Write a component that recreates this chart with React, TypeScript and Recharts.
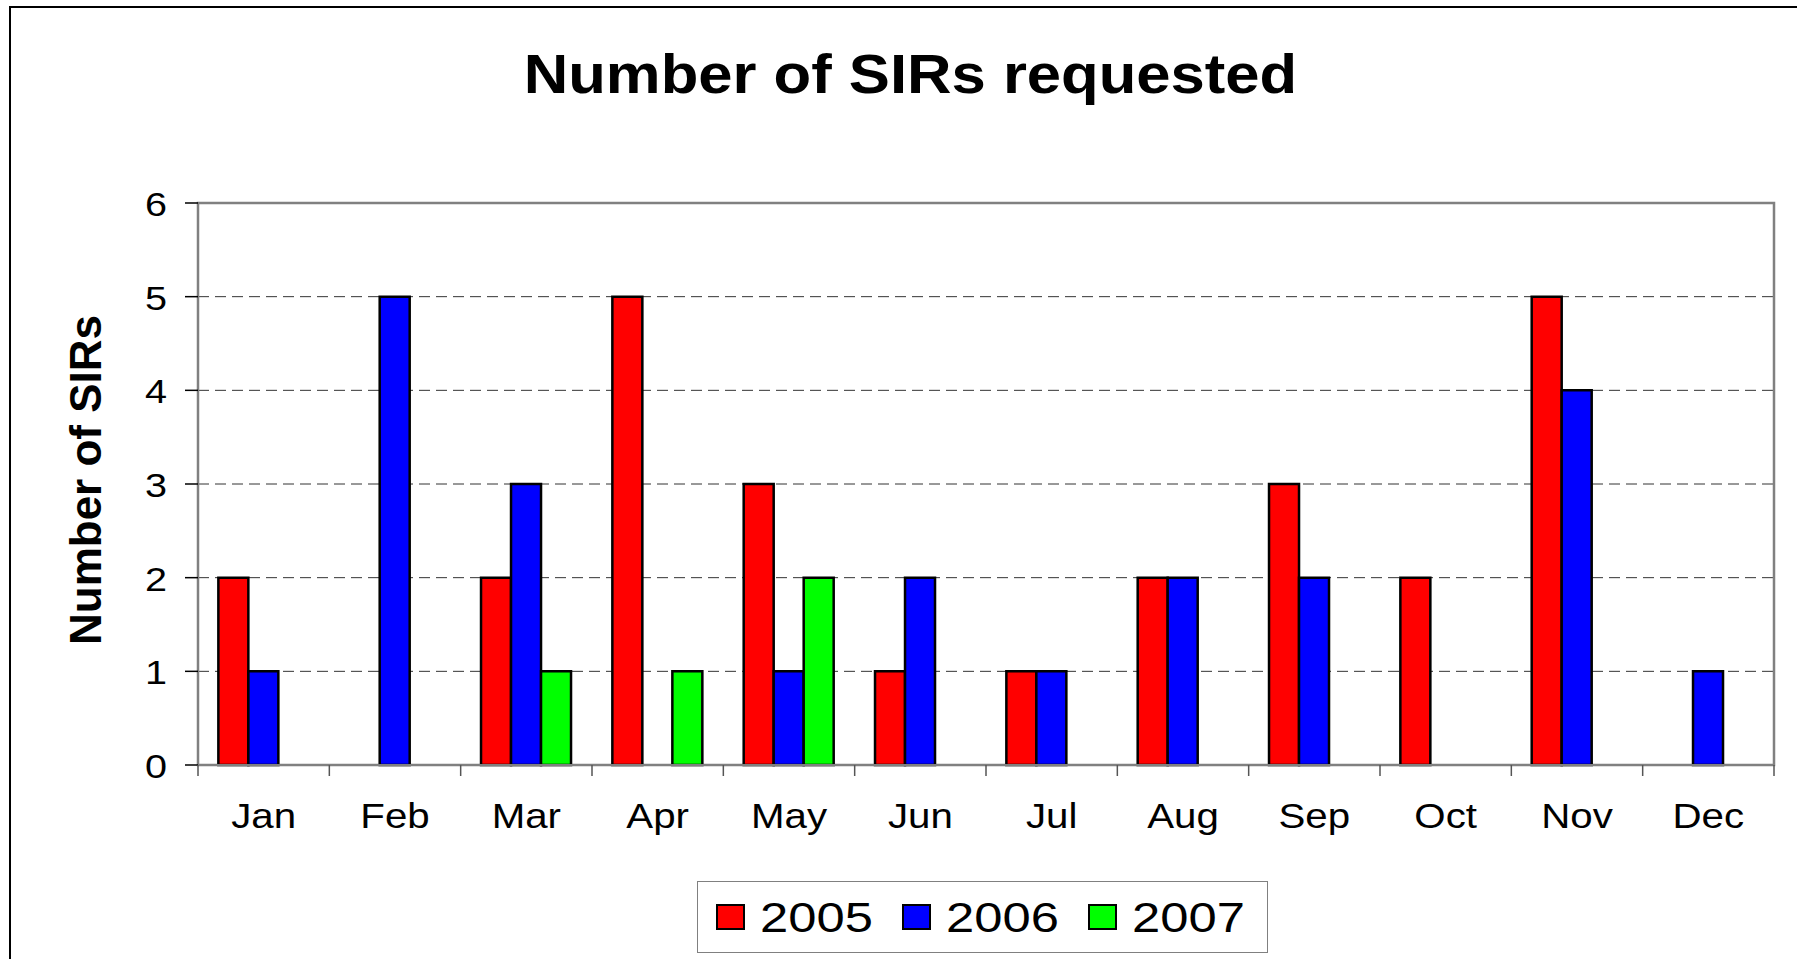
import React from 'react';
import { BarChart, Bar, XAxis, YAxis, CartesianGrid, Legend, ReferenceArea } from 'recharts';

const months = ['Jan', 'Feb', 'Mar', 'Apr', 'May', 'Jun', 'Jul', 'Aug', 'Sep', 'Oct', 'Nov', 'Dec'];
const sir2005 = [2, 0, 2, 5, 3, 1, 1, 2, 3, 2, 5, 0];
const sir2006 = [1, 5, 3, 0, 1, 2, 1, 2, 2, 0, 4, 1];
const sir2007 = [0, 0, 1, 1, 2, 0, 0, 0, 0, 0, 0, 0];
const yTicks = [0, 1, 2, 3, 4, 5, 6];
const seriesNames = ['2005', '2006', '2007'];
const seriesColors = ['#FF0000', '#0000FF', '#00FF00'];
const chartTitle = 'Number of SIRs requested';
const yAxisTitle = 'Number of SIRs';

const seriesValues = [sir2005, sir2006, sir2007];
const data = months.map((m, i) => {
  const row: any = { month: m };
  seriesNames.forEach((s, k) => {
    row[s] = seriesValues[k][i];
  });
  return row;
});

const FONT = '"Liberation Sans", Arial, Helvetica, sans-serif';

const XTick = (props: any) => {
  const { x, y, payload, index, visibleTicksCount } = props;
  const half = payload && typeof payload.offset === 'number' ? payload.offset : 0;
  return (
    <g>
      <line x1={x - half} x2={x - half} y1={y} y2={y + 11} stroke="#555" strokeWidth={1.5} />
      {index === visibleTicksCount - 1 ? (
        <line x1={x + half} x2={x + half} y1={y} y2={y + 11} stroke="#555" strokeWidth={1.5} />
      ) : null}
      <text
        transform={`translate(${x},${y + 63}) scale(1.15,1)`}
        textAnchor="middle"
        fontSize={35}
        fontFamily={FONT}
        fill="#000"
      >
        {payload.value}
      </text>
    </g>
  );
};

const YTick = (props: any) => {
  const { x, y, payload } = props;
  return (
    <text
      transform={`translate(${x},${y + 13}) scale(1.2,1)`}
      textAnchor="end"
      fontSize={33}
      fontFamily={FONT}
      fill="#000"
    >
      {payload.value}
    </text>
  );
};

const YLabel = (props: any) => {
  const vb = props && props.viewBox ? props.viewBox : {};
  const vx = typeof vb.x === 'number' ? vb.x : 118;
  const vy = typeof vb.y === 'number' ? vb.y : 203;
  const vh = typeof vb.height === 'number' ? vb.height : 562;
  const bx = vx - 17;
  const cy = vy + vh / 2 - 4;
  return (
    <text
      transform={`translate(${bx},${cy}) rotate(-90)`}
      textAnchor="middle"
      fontSize={44}
      fontWeight="bold"
      fontFamily={FONT}
      fill="#000"
    >
      {yAxisTitle}
    </text>
  );
};

const LegendContent = (props: any) => {
  const payload = props.payload || [];
  return (
    <div
      style={{
        boxSizing: 'border-box',
        width: '100%',
        height: '100%',
        border: '1.5px solid #808080',
        background: '#fff',
        display: 'flex',
        alignItems: 'center',
        paddingLeft: 18,
      }}
    >
      {payload.map((p: any, i: number) => (
        <div key={`leg-${i}`} style={{ display: 'flex', alignItems: 'center', marginRight: 30 }}>
          <span
            style={{
              boxSizing: 'border-box',
              display: 'inline-block',
              width: 29,
              height: 26,
              background: p.color,
              border: '2.5px solid #000',
              marginRight: 15,
            }}
          />
          <span style={{ display: 'inline-block', width: 112, whiteSpace: 'nowrap' }}>
            <span
              style={{
                display: 'inline-block',
                fontSize: 43,
                lineHeight: 1,
                fontFamily: FONT,
                color: '#000',
                transform: 'scaleX(1.18)',
                transformOrigin: 'left center',
              }}
            >
              {p.value}
            </span>
          </span>
        </div>
      ))}
    </div>
  );
};

export default function App() {
  return (
    <div
      style={{
        position: 'absolute',
        left: 0,
        top: 0,
        width: 1797,
        height: 959,
        overflow: 'hidden',
        background: '#fff',
      }}
    >
      <div
        style={{
          position: 'absolute',
          left: 9,
          top: 6,
          width: 1900,
          height: 1100,
          border: '2px solid #000',
          boxSizing: 'border-box',
        }}
      />
      <div style={{ position: 'absolute', left: 0, top: 0 }}>
        <BarChart
          width={1797}
          height={959}
          data={data}
          margin={{ top: 203, right: 23, left: 118, bottom: 114 }}
          barCategoryGap="15.5%"
          barGap={0}
        >
          <CartesianGrid vertical={false} stroke="#333" strokeWidth={1} strokeDasharray="11 6" />
          <ReferenceArea
            x1={months[0]}
            x2={months[months.length - 1]}
            y1={yTicks[0]}
            y2={yTicks[yTicks.length - 1]}
            fill="none"
            fillOpacity={0}
            stroke="#808080"
            strokeWidth={2.5}
            strokeOpacity={1}
          />
          <XAxis
            dataKey="month"
            height={80}
            interval={0}
            tickLine={false}
            tickSize={0}
            tickMargin={0}
            axisLine={{ stroke: '#808080', strokeWidth: 2 }}
            tick={(p: any) => <XTick {...p} />}
          />
          <YAxis
            type="number"
            width={80}
            domain={[0, 6]}
            ticks={yTicks}
            interval={0}
            tickSize={13}
            tickMargin={18}
            tickLine={{ stroke: '#000', strokeWidth: 1.5 }}
            axisLine={{ stroke: '#808080', strokeWidth: 2 }}
            tick={(p: any) => <YTick {...p} />}
            label={{ content: (p: any) => <YLabel {...p} /> }}
          />
          <Legend
            layout="horizontal"
            verticalAlign="middle"
            align="center"
            wrapperStyle={{ left: 697, top: 881, width: 571, height: 72 }}
            content={(p: any) => <LegendContent {...p} />}
          />
          {seriesNames.map((s, k) => (
            <Bar
              key={s}
              dataKey={s}
              name={s}
              fill={seriesColors[k]}
              stroke="#000"
              strokeWidth={2.5}
              isAnimationActive={false}
            />
          ))}
        </BarChart>
      </div>
      <svg
        width={1797}
        height={130}
        style={{ position: 'absolute', left: 0, top: 0, pointerEvents: 'none' }}
      >
        <text
          transform="translate(910.5,92.7) scale(1.1,1)"
          textAnchor="middle"
          fontSize={56}
          fontWeight="bold"
          fontFamily={FONT}
          fill="#000"
        >
          {chartTitle}
        </text>
      </svg>
    </div>
  );
}
